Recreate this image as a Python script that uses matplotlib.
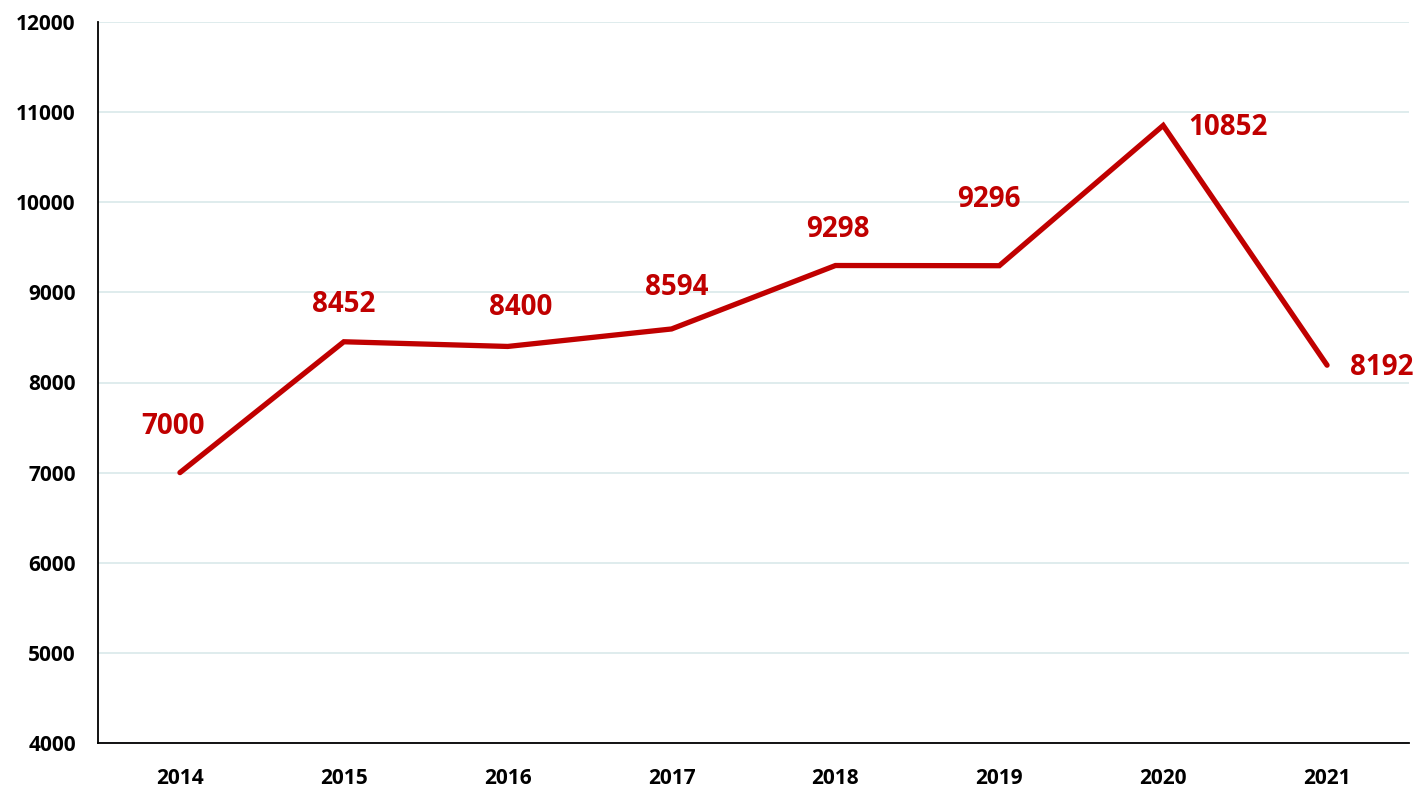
import numpy as np
import matplotlib.pyplot as plt

plt.rcParams['font.family'] = ['Open Sans', 'DejaVu Sans']
plt.rcParams['font.weight'] = 'bold'

years = ['2014', '2015', '2016', '2017', '2018', '2019', '2020', '2021']
values = [7000, 8452, 8400, 8594, 9298, 9296, 10852, 8192]

# label offsets in pixels (dx, dy) and horizontal alignment
label_offsets = [(-7, 46), (0, 37), (13, 39), (5, 41), (2, 36), (-10, 66), (25, -2), (23, -2)]
label_ha = ['center'] * 6 + ['left', 'left']

red = '#C00000'
px = 72 / 100  # pixel -> point at dpi 100

fig = plt.figure(figsize=(14.16, 7.9), dpi=100)
ax = fig.add_axes([98 / 1416, 47 / 790, 1311 / 1416, 721 / 790])

x = np.arange(len(years))
ax.plot(x, values, color=red, lw=3.8, solid_capstyle='round', solid_joinstyle='miter', zorder=3)

for xi, v, (dx, dy), ha in zip(x, values, label_offsets, label_ha):
    ax.annotate(str(v), (xi, v), xytext=(dx * px, dy * px), textcoords='offset points',
                ha=ha, va='center', color=red, fontsize=20, fontweight='bold')

ax.set_xlim(-0.5, len(years) - 0.5)
ax.set_ylim(4000, 12000)
ax.set_yticks(np.arange(4000, 12001, 1000))
ax.set_xticks(x)
ax.set_xticklabels(years)
ax.tick_params(axis='both', length=0, labelsize=15)
ax.tick_params(axis='y', pad=16)
ax.tick_params(axis='x', pad=18)
for lab in ax.get_xticklabels() + ax.get_yticklabels():
    lab.set_fontweight('bold')

ax.grid(axis='y', color='#DCEBEC', lw=1.3)
ax.set_axisbelow(True)
ax.spines['top'].set_visible(False)
ax.spines['right'].set_visible(False)
ax.spines['left'].set_linewidth(1.3)
ax.spines['bottom'].set_linewidth(1.3)

fig.savefig('out.png', dpi=100)
